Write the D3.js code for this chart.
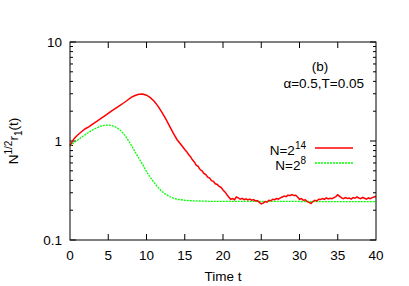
<!DOCTYPE html>
<html>
<head>
<meta charset="utf-8">
<script src="https://cdn.jsdelivr.net/npm/d3@7"></script>
<style>
  body { margin: 0; background: #fff; }
  svg text { font-family: "Liberation Sans", Arial, sans-serif; fill: #000; }
</style>
</head>
<body>
<div class="main_content"></div>
<script>
// N = 2^14, [time, N^(1/2) r1]
const redPoints = [
  [0, 0.90], [0.5, 1.05], [1, 1.15], [1.5, 1.24], [2, 1.33], [2.5, 1.40], [3, 1.49],
  [3.5, 1.58], [4, 1.68], [4.5, 1.78], [5, 1.90], [5.5, 2.03], [6, 2.15], [6.5, 2.28],
  [7, 2.42], [7.5, 2.58], [8, 2.76], [8.5, 2.88], [9, 2.97], [9.5, 2.98], [10, 2.90],
  [10.5, 2.74], [11, 2.52], [11.5, 2.25], [12, 1.96], [12.5, 1.68], [13, 1.42],
  [13.5, 1.20], [14, 1.03], [14.5, 0.92], [15, 0.82], [15.25, 0.78], [15.5, 0.73],
  [15.75, 0.695], [16, 0.645], [16.25, 0.615], [16.5, 0.57], [16.75, 0.555], [17, 0.515],
  [17.25, 0.50], [17.5, 0.47], [17.75, 0.458], [18, 0.432], [18.25, 0.422], [18.5, 0.398],
  [18.75, 0.392], [19, 0.37], [19.25, 0.364], [19.5, 0.348], [19.75, 0.34], [20, 0.32],
  [20.25, 0.306], [20.5, 0.288], [20.75, 0.272], [21, 0.258], [21.25, 0.262], [21.5, 0.255],
  [21.75, 0.272], [22, 0.266], [22.25, 0.258], [22.5, 0.263], [22.75, 0.256], [23, 0.261],
  [23.25, 0.254], [23.5, 0.259], [23.75, 0.252], [24, 0.256], [24.25, 0.248], [24.5, 0.250],
  [24.75, 0.240], [25, 0.232], [25.25, 0.236], [25.5, 0.244], [25.75, 0.241], [26, 0.252],
  [26.25, 0.249], [26.5, 0.258], [26.75, 0.255], [27, 0.262], [27.25, 0.259], [27.5, 0.266],
  [27.75, 0.272], [28, 0.278], [28.25, 0.274], [28.5, 0.284], [28.75, 0.280], [29, 0.287],
  [29.25, 0.281], [29.5, 0.283], [29.75, 0.272], [30, 0.258], [30.25, 0.262], [30.5, 0.252],
  [30.75, 0.255], [31, 0.244], [31.25, 0.240], [31.5, 0.234], [31.75, 0.245], [32, 0.252],
  [32.25, 0.248], [32.5, 0.258], [32.75, 0.256], [33, 0.262], [33.25, 0.257], [33.5, 0.266],
  [33.75, 0.260], [34, 0.264], [34.25, 0.261], [34.5, 0.268], [34.75, 0.274], [35, 0.286],
  [35.25, 0.276], [35.5, 0.266], [35.75, 0.262], [36, 0.268], [36.25, 0.263], [36.5, 0.266],
  [36.75, 0.259], [37, 0.268], [37.25, 0.264], [37.5, 0.272], [37.75, 0.266], [38, 0.262],
  [38.25, 0.269], [38.5, 0.264], [38.75, 0.258], [39, 0.266], [39.25, 0.262], [39.5, 0.268],
  [39.75, 0.272], [40, 0.276]
];

// N = 2^8
const greenPoints = [
  [0, 0.89], [0.5, 0.96], [1, 1.02], [1.5, 1.09], [2, 1.16], [2.5, 1.23], [3, 1.30],
  [3.5, 1.36], [4, 1.41], [4.5, 1.44], [5, 1.45], [5.5, 1.43], [6, 1.38], [6.5, 1.30],
  [7, 1.19], [7.5, 1.05], [8, 0.91], [8.5, 0.78], [9, 0.67], [9.5, 0.58], [10, 0.49],
  [10.5, 0.43], [11, 0.38], [11.5, 0.34], [12, 0.31], [12.5, 0.29], [13, 0.275],
  [13.5, 0.265], [14, 0.258], [15, 0.252], [16, 0.249], [18, 0.246], [20, 0.245],
  [25, 0.245], [30, 0.245], [35, 0.244], [40, 0.244]
];

const xTicks = [0, 5, 10, 15, 20, 25, 30, 35, 40];
const yMajor = [0.1, 1, 10];
const yMinor = [0.2, 0.3, 0.4, 0.5, 0.6, 0.7, 0.8, 0.9, 2, 3, 4, 5, 6, 7, 8, 9];

const width = 409, height = 286;
const margin = {top: 42, right: 33, bottom: 46, left: 70};

const svg = d3.select('.main_content').append('svg')
    .attr('width', width)
    .attr('height', height);

const x = d3.scaleLinear().domain([0, 40]).range([margin.left, width - margin.right]);
const y = d3.scaleLog().domain([0.1, 10]).range([height - margin.bottom, margin.top]);

const fontSize = 13.5;

// Ticks on all four sides, pointing inward
const tickG = svg.append('g').attr('stroke', '#000').attr('stroke-width', 1);
xTicks.forEach(t => {
    if (t === 0 || t === 40) return;
    tickG.append('line').attr('x1', x(t)).attr('x2', x(t))
        .attr('y1', y(0.1)).attr('y2', y(0.1) - 6);
    tickG.append('line').attr('x1', x(t)).attr('x2', x(t))
        .attr('y1', y(10)).attr('y2', y(10) + 6);
});
yMajor.concat(yMinor).forEach(v => {
    const len = yMajor.includes(v) ? 6 : 3;
    tickG.append('line').attr('x1', x(0)).attr('x2', x(0) + len)
        .attr('y1', y(v)).attr('y2', y(v));
    tickG.append('line').attr('x1', x(40)).attr('x2', x(40) - len)
        .attr('y1', y(v)).attr('y2', y(v));
});

// Tick labels
svg.append('g').selectAll('text').data(xTicks).join('text')
    .attr('x', d => x(d))
    .attr('y', height - margin.bottom + 20)
    .attr('text-anchor', 'middle')
    .attr('font-size', fontSize)
    .text(d => d);

svg.append('g').selectAll('text').data(yMajor).join('text')
    .attr('x', margin.left - 8)
    .attr('y', d => y(d) + 5)
    .attr('text-anchor', 'end')
    .attr('font-size', fontSize)
    .text(d => d);

// Axis titles
svg.append('text')
    .attr('x', (x(0) + x(40)) / 2)
    .attr('y', 281)
    .attr('text-anchor', 'middle')
    .attr('font-size', fontSize)
    .text('Time t');

const yTitle = svg.append('text')
    .attr('transform', 'translate(18,141) rotate(-90)')
    .attr('text-anchor', 'middle')
    .attr('font-size', fontSize);
yTitle.append('tspan').text('N');
yTitle.append('tspan').attr('dy', -6).attr('font-size', 10).text('1/2');
yTitle.append('tspan').attr('dy', 6).text('r');
yTitle.append('tspan').attr('dy', 4).attr('font-size', 10).text('1');
yTitle.append('tspan').attr('dy', -4).text('(t)');

// Data lines
const line = d3.line()
    .x(d => x(d[0]))
    .y(d => y(d[1]));

svg.append('path')
    .datum(greenPoints)
    .attr('fill', 'none')
    .attr('stroke', '#00ff00')
    .attr('stroke-width', 1.3)
    .attr('stroke-dasharray', '2,1')
    .attr('d', line);

svg.append('path')
    .datum(redPoints)
    .attr('fill', 'none')
    .attr('stroke', '#ff0000')
    .attr('stroke-width', 1.5)
    .attr('d', line);

// Annotation
svg.append('text')
    .attr('x', 320).attr('y', 71)
    .attr('text-anchor', 'middle')
    .attr('font-size', fontSize)
    .text('(b)');
svg.append('text')
    .attr('x', 364).attr('y', 88)
    .attr('text-anchor', 'end')
    .attr('font-size', fontSize)
    .text('\u03b1=0.5,T=0.05');

// Legend
const legend = [
    {base: '14', color: '#ff0000', dash: null, yPos: 148},
    {base: '8', color: '#00ff00', dash: '2,1', yPos: 163}
];
legend.forEach(l => {
    const t = svg.append('text')
        .attr('x', 306).attr('y', l.yPos + 7)
        .attr('text-anchor', 'end')
        .attr('font-size', fontSize);
    t.append('tspan').text('N=2');
    t.append('tspan').attr('dy', -6).attr('font-size', 10).text(l.base);
    svg.append('line')
        .attr('x1', 315).attr('x2', 353)
        .attr('y1', l.yPos).attr('y2', l.yPos)
        .attr('stroke', l.color)
        .attr('stroke-width', 1.4)
        .attr('stroke-dasharray', l.dash);
});

// Border box
svg.append('rect')
    .attr('x', x(0))
    .attr('y', y(10))
    .attr('width', x(40) - x(0))
    .attr('height', y(0.1) - y(10))
    .style('stroke', '#000')
    .style('fill', 'none')
    .style('stroke-width', 1);
</script>
</body>
</html>
